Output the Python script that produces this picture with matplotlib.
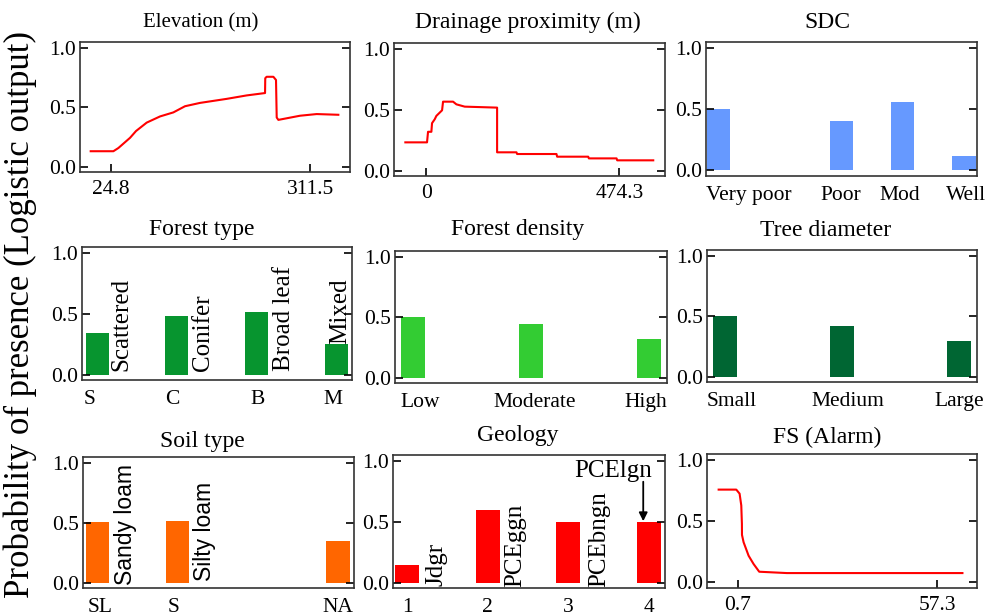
import matplotlib
matplotlib.use("Agg")
import matplotlib.pyplot as plt

plt.rcParams["font.family"] = ["Liberation Serif", "DejaVu Serif"]

# response curves (continuous variables)
elev_x = [-4.5, 28.2, 35.4, 52.2, 60.8, 76.2, 95.4, 114.6, 131.4, 153.0, 191.4,
          220.2, 246.7, 247.0, 249.0, 258.7, 262.5, 263.5, 265.9, 297.1, 321.1, 352.3]
elev_y = [0.13, 0.13, 0.157, 0.243, 0.30, 0.371, 0.423, 0.457, 0.509, 0.537, 0.571,
          0.60, 0.62, 0.745, 0.757, 0.757, 0.73, 0.414, 0.394, 0.429, 0.443, 0.437]
elev_ticks = [24.8, 311.5]

drain_x = [-51.7, 1.6, 4.1, 12.3, 13.9, 20.5, 24.6, 38.6, 41.0, 65.6, 73.8, 94.3,
           173.9, 173.9, 221.5, 223.1, 319.9, 321.5, 397.9, 399.5, 467.6, 469.2, 557.8]
drain_y = [0.232, 0.232, 0.319, 0.319, 0.39, 0.422, 0.45, 0.496, 0.567, 0.567, 0.545,
           0.526, 0.518, 0.15, 0.15, 0.136, 0.136, 0.114, 0.114, 0.10, 0.10, 0.084, 0.084]
drain_ticks = [0, 474.3]

fs_x = [-4.78, 0.23, 1.17, 1.65, 1.83, 1.85, 2.31, 3.73, 5.15, 6.75, 14.6, 25.9, 64.5]
fs_y = [0.759, 0.759, 0.726, 0.63, 0.479, 0.389, 0.329, 0.219, 0.151, 0.088, 0.077,
        0.077, 0.077]
fs_ticks = [0.7, 57.3]

# categorical variables
sdc_codes = [1, 3, 4, 5]
sdc_vals = [0.499, 0.408, 0.559, 0.12]
sdc_labels = ["Very poor", "Poor", "Mod", "Well"]

ftype_codes = [1, 2, 3, 4]
ftype_vals = [0.345, 0.48, 0.511, 0.249]
ftype_labels = ["S", "C", "B", "M"]
ftype_names = ["Scattered", "Conifer", "Broad leaf", "Mixed"]

fdens_codes = [1, 2, 3]
fdens_vals = [0.50, 0.444, 0.32]
fdens_labels = ["Low", "Moderate", "High"]

tdiam_codes = [1, 2, 3]
tdiam_vals = [0.503, 0.423, 0.293]
tdiam_labels = ["Small", "Medium", "Large"]

soil_codes = [1, 2, 4]
soil_vals = [0.505, 0.511, 0.345]
soil_labels = ["SL", "S", "NA"]
soil_names = ["Sandy loam", "Silty loam"]

geo_codes = [1, 2, 3, 4]
geo_vals = [0.146, 0.595, 0.499, 0.496]
geo_labels = ["1", "2", "3", "4"]
geo_names = ["Jdgr", "PCEggn", "PCEbngn"]

W, H = 987, 615
fig = plt.figure(figsize=(W / 100, H / 100), dpi=100)


def panel(l, t, r, b):
    ax = fig.add_axes([l / W, 1 - b / H, (r - l) / W, (b - t) / H])
    ax.set_ylim(-0.045, 1.05)
    ax.set_yticks([0, 0.5, 1.0])
    ax.set_yticklabels(["0.0", "0.5", "1.0"])
    ax.tick_params(axis="y", direction="in", length=6, width=1.2, right=True,
                   labelsize=15.5, pad=3)
    ax.tick_params(axis="x", direction="in", length=6, width=1.2, labelsize=15.5, pad=6)
    for s in ax.spines.values():
        s.set_linewidth(1.2)
        s.set_color("#333333")
    return ax


def title(x, y, text, size=17):
    fig.text(x / W, 1 - y / H, text, ha="center", va="center", fontsize=size)


def cat_axis(ax, positions, labels):
    ax.set_xticks(positions)
    ax.set_xticklabels(labels)
    ax.tick_params(axis="x", length=0, pad=7)


# row 1
ax = panel(80, 42, 350, 172)
ax.plot(elev_x, elev_y, color="red", lw=1.5)
ax.set_xlim(-19.9, 369.1)
ax.set_xticks(elev_ticks)
ax.set_xticklabels(["24.8", "311.5"])
title(201, 23, "Elevation (m)", 15)

ax = panel(394, 43, 665, 176)
ax.plot(drain_x, drain_y, color="red", lw=1.5)
ax.set_xlim(-79.6, 586.7)
ax.set_xticks(drain_ticks)
ax.set_xticklabels(["0", "474.3"])
title(528, 22, "Drainage proximity (m)")

ax = panel(706, 42, 977, 176)
ax.bar(sdc_codes, sdc_vals, width=0.38, color="#6699FF")
ax.set_xlim(0.8, 5.21)
cat_axis(ax, [1.49, 3.0, 3.95, 5.03], sdc_labels)
title(827, 22, "SDC")

# row 2
ax = panel(82, 247, 352, 380)
ax.bar(ftype_codes, ftype_vals, width=0.29, color="#07952F")
ax.set_xlim(0.81, 4.2)
cat_axis(ax, [0.91, 1.94, 3.02, 3.96], ftype_labels)
for x, y, s in zip([1.31, 2.33, 3.35, 4.05], [0.028, 0.028, 0.028, 0.25], ftype_names):
    ax.text(x, y, s, rotation=90, ha="center", va="bottom", fontsize=18)
title(202, 230, "Forest type")

ax = panel(395, 251, 667, 383)
ax.bar(fdens_codes, fdens_vals, width=0.204, color="#33CC33")
ax.set_xlim(0.847, 3.153)
cat_axis(ax, [1.06, 2.03, 2.97], fdens_labels)
title(518, 230, "Forest density")

ax = panel(707, 250, 977, 382)
ax.bar(tdiam_codes, tdiam_vals, width=0.204, color="#006633")
ax.set_xlim(0.847, 3.153)
cat_axis(ax, [1.06, 2.05, 3.0], tdiam_labels)
title(826, 230, "Tree diameter")

# row 3
ax = panel(83, 457, 354, 588)
ax.bar(soil_codes, soil_vals, width=0.29, color="#FF6600")
ax.set_xlim(0.82, 4.2)
cat_axis(ax, [1.03, 1.95, 4.0], soil_labels)
for x, y, s in zip([1.35, 2.33], [-0.02, 0.01], soil_names):
    ax.text(x, y, s, rotation=90, ha="center", va="bottom", fontsize=16.5,
            family=["Liberation Sans", "DejaVu Sans"])
title(202, 442, "Soil type")

ax = panel(393, 455, 665, 588)
ax.bar(geo_codes, geo_vals, width=0.3, color="red")
ax.set_xlim(0.826, 4.2)
cat_axis(ax, geo_codes, geo_labels)
for x, y, s in zip([1.37, 2.34, 3.38], [-0.025, -0.033, -0.033], geo_names):
    ax.text(x, y, s, rotation=90, ha="center", va="bottom", fontsize=18)
ax.text(3.56, 0.92, "PCElgn", ha="center", va="center", fontsize=18)
ax.annotate("", xy=(3.93, 0.505), xytext=(3.93, 0.83),
            arrowprops=dict(arrowstyle="-|>,head_length=0.5,head_width=0.25",
                            color="black", lw=1.3, shrinkA=0, shrinkB=0))
title(518, 435, "Geology")

ax = panel(707, 454, 977, 588)
ax.plot(fs_x, fs_y, color="red", lw=1.5)
ax.set_xlim(-8.09, 68.64)
ax.set_xticks(fs_ticks)
ax.set_xticklabels(["0.7", "57.3"])
title(827, 437, "FS (Alarm)")

fig.text(20 / W, 1 - 315 / H, "Probability of presence (Logistic output)",
         rotation=90, ha="center", va="center", fontsize=25)

fig.savefig("out.png", dpi=100)
